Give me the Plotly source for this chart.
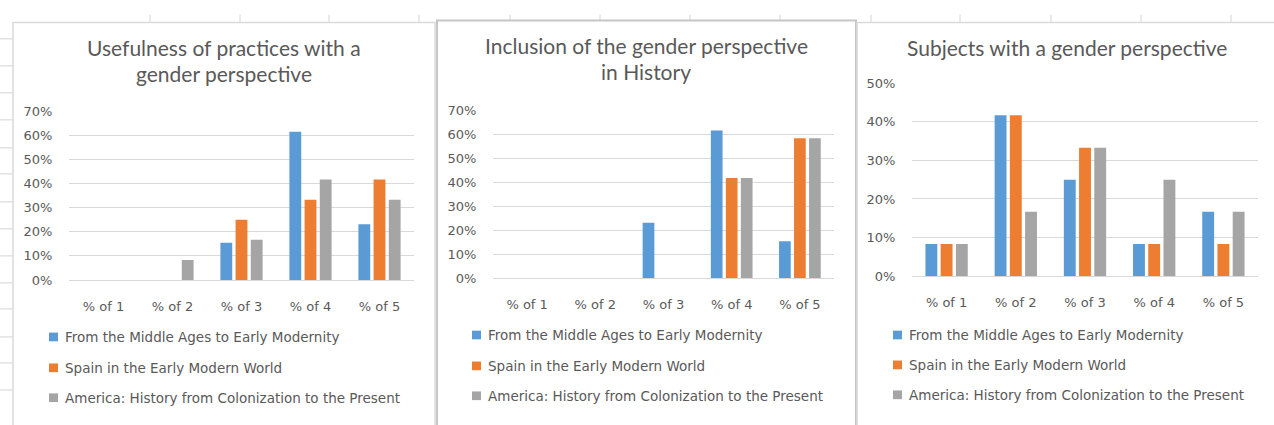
import plotly.graph_objects as go

# ---------------- data ----------------
categories = ["% of 1", "% of 2", "% of 3", "% of 4", "% of 5"]
series_names = [
    "From the Middle Ages to Early Modernity",
    "Spain in the Early Modern World",
    "America: History from Colonization to the Present",
]

usefulness_medieval = [0.0, 0.0, 0.154, 0.615, 0.231]
usefulness_spain = [0.0, 0.0, 0.25, 0.333, 0.417]
usefulness_america = [0.0, 0.083, 0.167, 0.417, 0.333]

inclusion_medieval = [0.0, 0.0, 0.231, 0.615, 0.154]
inclusion_spain = [0.0, 0.0, 0.0, 0.417, 0.583]
inclusion_america = [0.0, 0.0, 0.0, 0.417, 0.583]

subjects_medieval = [0.083, 0.417, 0.25, 0.083, 0.167]
subjects_spain = [0.083, 0.417, 0.333, 0.083, 0.083]
subjects_america = [0.083, 0.167, 0.333, 0.25, 0.167]

title_lines_1 = ["Usefulness of practices with a", "gender perspective"]
title_lines_2 = ["Inclusion of the gender perspective", "in History"]
title_lines_3 = ["Subjects with a gender perspective"]

# ---------------- styles ----------------
W, H = 1274, 425
colors = ["#5B9BD5", "#ED7D31", "#A5A5A5"]
TITLE_FONT = "Lato"
SMALL_FONT = "DejaVu Sans"
TXT = "#595959"
GRID = "#d9d9d9"


def px(x):
    return x / W


def py(y):
    return 1 - y / H


panels = [
    dict(bx0=13, bx1=435, by0=16, ax0=69, ax1=414, top=108, bot=283, ymax=0.7,
         title_x=224, title_y=[42, 69], lsq=49, ltx=63, ly=[342, 374, 405],
         border="#d9d9d9", bw=1.5),
    dict(bx0=437, bx1=856, by0=14, ax0=493, ax1=834, top=107, bot=281, ymax=0.7,
         title_x=646, title_y=[40, 67], lsq=472, ltx=486, ly=[340, 372, 403],
         border="#c6c6c6", bw=2),
    dict(bx0=857, bx1=1280, by0=16, ax0=912, ax1=1258, top=79, bot=279, ymax=0.5,
         title_x=1067, title_y=[42], lsq=893, ltx=907, ly=[340, 371, 402],
         border="#d9d9d9", bw=1.5),
]

data_sets = [
    [usefulness_medieval, usefulness_spain, usefulness_america],
    [inclusion_medieval, inclusion_spain, inclusion_america],
    [subjects_medieval, subjects_spain, subjects_america],
]
titles = [title_lines_1, title_lines_2, title_lines_3]

fig = go.Figure()
shapes = []
annotations = []

# spreadsheet background marks
for x in [150, 240, 329, 419, 510, 600, 690, 780, 871, 960, 1051, 1141, 1231]:
    shapes.append(dict(type="line", xref="paper", yref="paper",
                       x0=px(x), x1=px(x), y0=py(8), y1=py(16),
                       line=dict(color="#d4d4d4", width=1), layer="below"))
for y in [33, 61, 89, 117, 146, 173, 202, 230, 258, 286, 313, 342, 369, 397]:
    shapes.append(dict(type="line", xref="paper", yref="paper",
                       x0=0, x1=px(13), y0=py(y), y1=py(y),
                       line=dict(color="#d4d4d4", width=1), layer="below"))

for i, (p, ds, tl) in enumerate(zip(panels, data_sets, titles)):
    n = "" if i == 0 else str(i + 1)
    shapes.append(dict(type="rect", xref="paper", yref="paper",
                       x0=px(p["bx0"]), x1=px(p["bx1"]), y0=py(p["by0"]), y1=py(H + 10),
                       fillcolor="white", line=dict(color=p["border"], width=p["bw"]),
                       layer="below"))
    for k, (vals, name) in enumerate(zip(ds, series_names)):
        fig.add_trace(go.Bar(
            x=categories, y=vals, name=name, marker_color=colors[k],
            marker_line_width=0, xaxis="x" + n, yaxis="y" + n,
            offsetgroup=str(k), showlegend=False,
        ))
    fig.update_layout(**{
        "xaxis" + n: dict(domain=[px(p["ax0"]), px(p["ax1"])], anchor="y" + n,
                          type="category", showgrid=False, showline=False,
                          ticks="outside", ticklen=14, tickcolor="rgba(0,0,0,0)",
                          tickfont=dict(family=SMALL_FONT, size=13, color=TXT)),
        "yaxis" + n: dict(domain=[py(p["bot"]), py(p["top"])], anchor="x" + n,
                          range=[0, p["ymax"]], dtick=0.1, tickformat=".0%",
                          showgrid=True, gridcolor=GRID, gridwidth=1,
                          zeroline=True, zerolinecolor=GRID, zerolinewidth=1,
                          showline=False, ticks="outside", ticklen=13,
                          tickcolor="rgba(0,0,0,0)",
                          tickfont=dict(family=SMALL_FONT, size=13, color=TXT)),
    })
    for line, ty in zip(tl, p["title_y"]):
        annotations.append(dict(text=line, xref="paper", yref="paper",
                                x=px(p["title_x"]), y=py(ty), xanchor="center",
                                yanchor="middle", showarrow=False,
                                font=dict(family=TITLE_FONT, size=21, color=TXT)))
    for k, (name, ly) in enumerate(zip(series_names, p["ly"])):
        shapes.append(dict(type="rect", xref="paper", yref="paper",
                           x0=px(p["lsq"]), x1=px(p["lsq"] + 9),
                           y0=py(ly + 4.5), y1=py(ly - 4.5),
                           fillcolor=colors[k], line=dict(width=0)))
        annotations.append(dict(text=name, xref="paper", yref="paper",
                                x=px(p["ltx"]), y=py(ly), xanchor="left",
                                yanchor="middle", showarrow=False,
                                font=dict(family=SMALL_FONT, size=13.5, color=TXT)))

fig.update_layout(
    width=W, height=H, margin=dict(l=0, r=0, t=0, b=0),
    paper_bgcolor="white", plot_bgcolor="rgba(0,0,0,0)",
    barmode="group", bargap=0.34, bargroupgap=0.22,
    shapes=shapes, annotations=annotations,
    font=dict(family=SMALL_FONT, color=TXT),
)

fig.write_html("out.html", config={"displayModeBar": False},
               post_script="document.body.style.margin='0';")
